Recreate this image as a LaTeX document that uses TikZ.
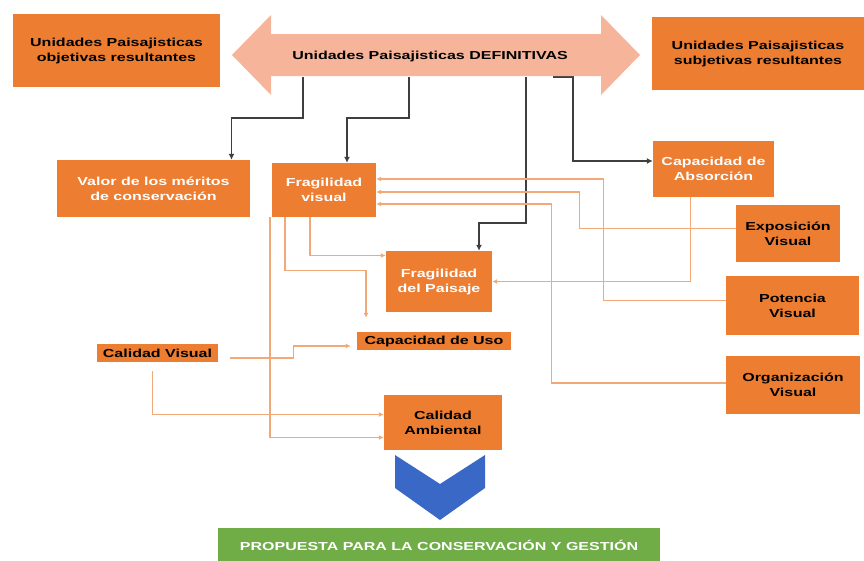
\documentclass[tikz,border=0pt]{standalone}
\usepackage{fontspec}
\setmainfont{Liberation Sans}[FakeStretch=1.38]
\usetikzlibrary{arrows.meta}
\pgfdeclarelayer{bg}
\pgfsetlayers{bg,main}
\definecolor{naranja}{HTML}{ED7D31}
\definecolor{salmon}{HTML}{F6B49A}
\definecolor{claro}{HTML}{F2A877}
\definecolor{gris}{HTML}{3F3F3F}
\definecolor{azul}{HTML}{3A68C6}
\definecolor{verde}{HTML}{70AD47}
\tikzset{
    every node/.style={inner sep=0mm, align=center, font=\fontsize{11.6}{15}\selectfont\bfseries}
}
\tikzset{caja/.style={rectangle, fill=naranja, text=black}}
\tikzset{cajab/.style={caja, text=white}}
\tikzset{
    oscuro/.style={draw=gris, line width=1.8pt, -{Latex[length=6pt,width=6pt]}},
    fino/.style={draw=claro, line width=1.1pt, -{Latex[length=5pt,width=5pt]}}
}

\begin{document}
\begin{tikzpicture}[x=1pt, y=-1pt]
        \useasboundingbox (0,0) rectangle (864,560);
        \fill[salmon] (232,55) -- (271,15) -- (271,34) -- (601,34) -- (601,15) -- (640,55)
                -- (601,95) -- (601,76) -- (271,76) -- (271,95) -- cycle;
        \node (da) [minimum width=330pt, minimum height=42pt] at (430,56) {Unidades Paisajisticas DEFINITIVAS};
        \node (v0) [caja, minimum width=207pt, minimum height=73pt] at (116.5,50.5) {Unidades Paisajisticas\\objetivas resultantes};
        \node (v1) [caja, minimum width=212pt, minimum height=73pt] at (758,53.5) {Unidades Paisajisticas\\subjetivas resultantes};
        \node (v2) [cajab, minimum width=193pt, minimum height=57pt] at (153.5,188.5) {Valor de los méritos\\de conservación};
        \node (v3) [cajab, minimum width=104pt, minimum height=54pt] at (324,190) {Fragilidad\\visual};
        \node (v4) [cajab, minimum width=121pt, minimum height=56pt] at (713.5,169) {Capacidad de\\Absorción};
        \node (v5) [caja, minimum width=104pt, minimum height=57pt] at (788,233.5) {Exposición\\Visual};
        \node (v6) [cajab, minimum width=106pt, minimum height=61pt] at (439,281.5) {Fragilidad\\del Paisaje};
        \node (v7) [caja, minimum width=133pt, minimum height=59pt] at (792.5,305.5) {Potencia\\Visual};
        \node (v8) [caja, minimum width=121pt, minimum height=18pt] at (157.5,353) {Calidad Visual};
        \node (v9) [caja, minimum width=154pt, minimum height=18pt] at (434,341) {Capacidad de Uso};
        \node (v10) [caja, minimum width=134pt, minimum height=58pt] at (793,385) {Organización\\Visual};
        \node (v11) [caja, minimum width=118pt, minimum height=55pt] at (443,422.5) {Calidad\\Ambiental};
        \fill[azul] (395,455) -- (440,484) -- (485,455) -- (485,488) -- (440,520) -- (395,488) -- cycle;
        \node (v12) [fill=verde, text=white, minimum width=442pt, minimum height=34pt] at (439,545) {PROPUESTA PARA LA CONSERVACIÓN Y GESTIÓN};
        \begin{pgfonlayer}{bg}
                \draw[oscuro] ([xshift=-127pt]da.south) -- ++(0,41) -| ([xshift=78pt]v2.north);
                \draw[oscuro] ([xshift=-21pt]da.south) -- ++(0,41) -| ([xshift=23pt]v3.north);
                \draw[oscuro] ([xshift=96pt]da.south) -- ++(0,146) -| ([xshift=40pt]v6.north);
                \draw[oscuro] ([xshift=123pt]da.south) -- ++(20,0) |- ([yshift=8pt]v4.west);
                \draw[fino] ([yshift=5pt]v7.west) -- ++(-122,0) |- ([yshift=11pt]v3.east);
                \draw[fino] ([yshift=5pt]v5.west) -- ++(-156,0) |- ([yshift=-2pt]v3.east);
                \draw[fino] ([yshift=2pt]v10.west) -- ++(-174,0) |- ([yshift=-14pt]v3.east);
                \draw[fino] ([xshift=-23pt]v4.south) |- (v6.east);
                \draw[fino] ([xshift=-14pt]v3.south) |- ([yshift=26pt]v6.west);
                \draw[fino] ([xshift=-39pt]v3.south) -- ++(0,53) -| ([xshift=-68pt,yshift=14pt]v9.north);
                \draw[fino] ([xshift=-54pt]v3.south) |- ([yshift=-15pt]v11.west);
                \draw[fino] ([xshift=12pt,yshift=-5pt]v8.east) -- ++(63,0) |- ([xshift=-6pt,yshift=-5pt]v9.west);
                \draw[fino] ([xshift=-5pt,yshift=-9pt]v8.south) |- ([yshift=8pt]v11.west);
        \end{pgfonlayer}
\end{tikzpicture}
\end{document}
